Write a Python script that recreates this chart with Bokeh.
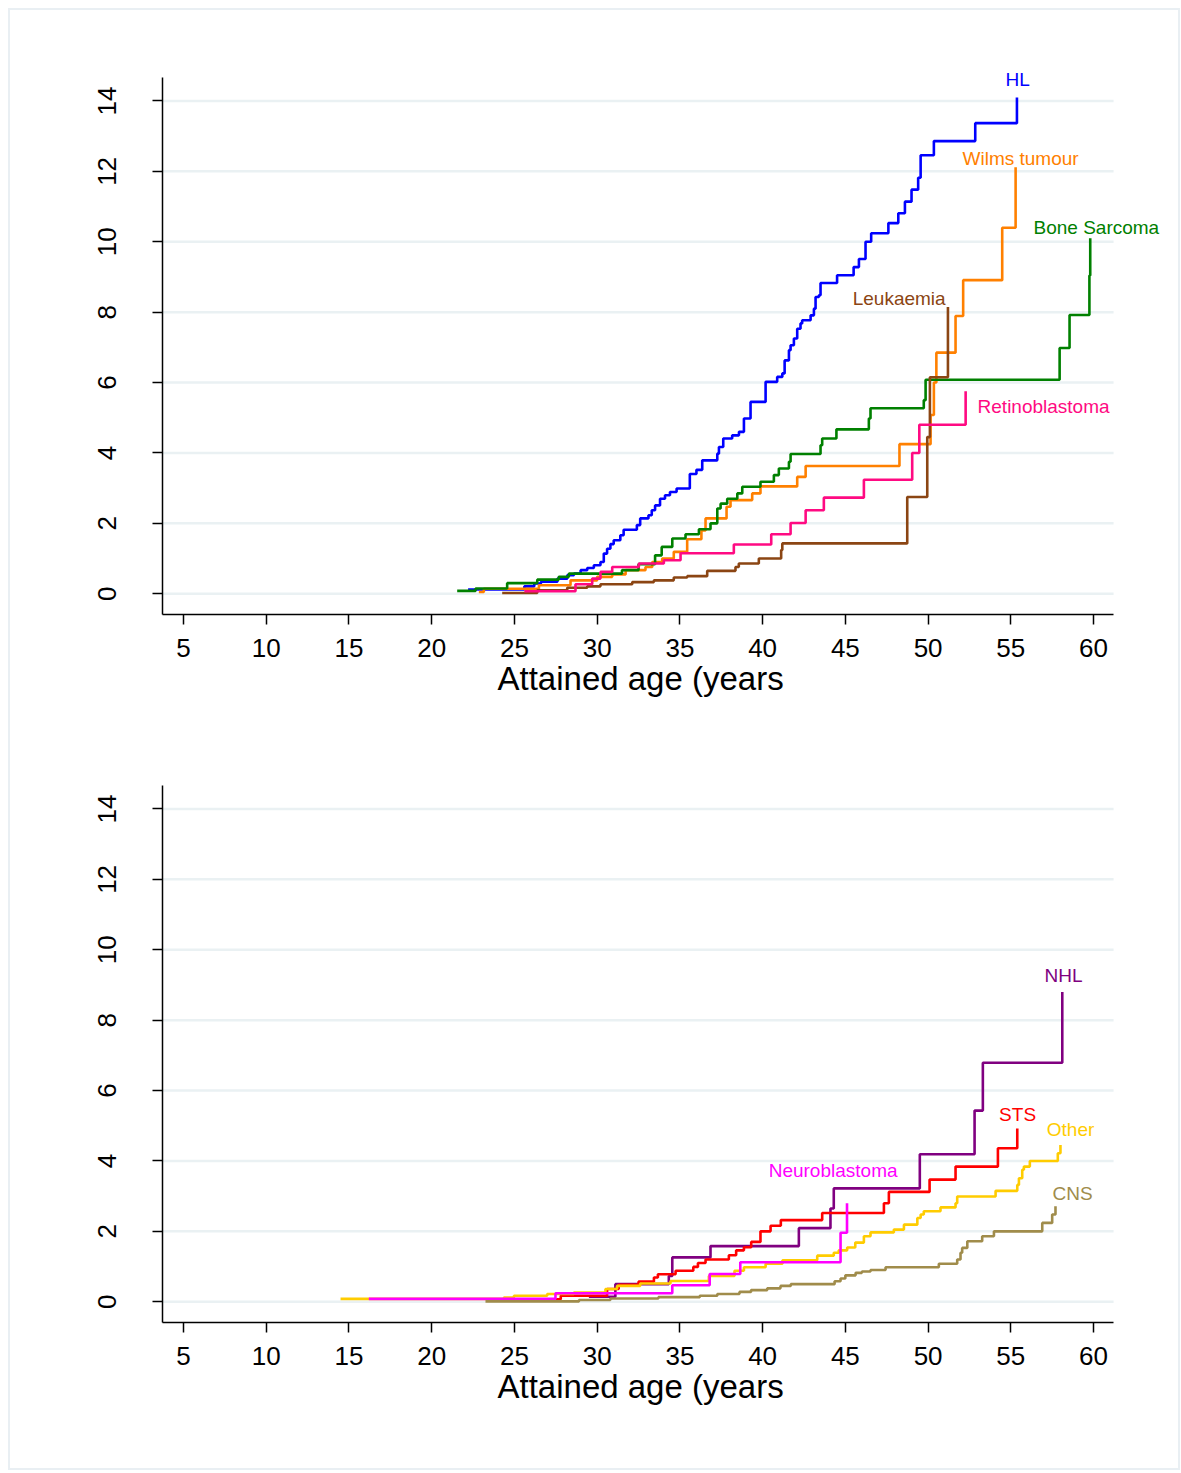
from bokeh.plotting import figure
from bokeh.models import Label, Range1d, FixedTicker, Title
from bokeh.layouts import column
from bokeh.embed import file_html
from bokeh.resources import INLINE

# ---------------- data (attained age, cumulative incidence %) ----------------
x_ticks = [5, 10, 15, 20, 25, 30, 35, 40, 45, 50, 55, 60]
y_ticks = [0, 2, 4, 6, 8, 10, 12, 14]
x_title = "Attained age (years"

hl_age = [22.2, 25.6, 26.2, 26.6, 27.6, 28.2, 28.6, 29.0, 29.4, 29.8, 30.2, 30.4, 30.6, 30.8, 31.0,
          31.4, 31.6, 32.4, 32.6, 33.1, 33.3, 33.5, 33.8, 34.1, 34.4, 34.8, 35.6, 36.0, 36.35, 37.26,
          37.36, 37.62, 38.16, 38.57, 38.87, 39.27, 40.18, 40.88, 41.19, 41.33, 41.59, 41.69, 41.89,
          42.09, 42.29, 42.39, 42.9, 43.1, 43.2, 43.4, 43.5, 44.5, 45.5, 45.82, 46.22, 46.56, 47.6,
          48.2, 48.6, 49.0, 49.4, 49.55, 50.35, 52.85, 55.37]
hl_val = [0.12, 0.21, 0.29, 0.34, 0.43, 0.53, 0.57, 0.67, 0.73, 0.81, 0.9, 1.14, 1.28, 1.41, 1.52,
          1.66, 1.82, 1.95, 2.14, 2.23, 2.37, 2.51, 2.7, 2.8, 2.89, 2.99, 3.4, 3.52, 3.79, 3.98,
          4.17, 4.41, 4.5, 4.6, 4.98, 5.45, 6.02, 6.16, 6.26, 6.63, 6.92, 7.06, 7.25,
          7.53, 7.68, 7.77, 7.91, 8.1, 8.43, 8.48, 8.83, 9.05, 9.28, 9.51, 10.0, 10.24, 10.53,
          10.81, 11.14, 11.48, 11.82, 12.46, 12.86, 13.37, 14.1]

wilms_age = [22.85, 23.15, 26.48, 28.39, 30.0, 30.91, 31.72, 32.92, 33.33, 33.93, 34.63, 35.44, 36.3,
             36.55, 37.82, 38.06, 39.37, 39.87, 42.09, 42.6, 48.27, 50.15, 50.35, 50.5, 51.66, 52.12,
             54.48, 55.29]
wilms_val = [0.05, 0.14, 0.24, 0.38, 0.48, 0.55, 0.67, 0.76, 0.9, 1.0, 1.19, 1.55, 1.8,
             2.14, 2.47, 2.66, 2.85, 3.05, 3.32, 3.63, 4.25, 5.08, 6.0, 6.85, 7.89, 8.91,
             10.4, 12.12]

bone_age = [21.54, 22.65, 24.56, 26.38, 27.68, 28.29, 31.5, 32.5, 33.5, 33.9, 34.54, 35.34, 36.15,
            36.85, 37.26, 37.46, 37.86, 38.47, 38.77, 39.87, 40.68, 40.98, 41.59, 41.69, 43.5, 43.6,
            44.46, 46.42, 46.52, 49.74, 49.85, 57.95, 58.55, 59.75, 59.8]
bone_val = [0.08, 0.15, 0.3, 0.4, 0.48, 0.57, 0.67, 0.84, 1.09, 1.33, 1.57, 1.69, 1.83,
            2.0, 2.42, 2.56, 2.7, 2.85, 3.04, 3.18, 3.37, 3.56, 3.75, 3.97, 4.22, 4.41,
            4.67, 4.98, 5.27, 5.5, 6.08, 6.98, 7.92, 9.04, 10.1]

leuk_age = [24.26, 26.38, 28.19, 29.4, 30.2, 32.12, 33.43, 34.63, 35.44, 36.65, 38.36, 38.56, 39.77,
            41.12, 41.19, 48.74, 49.95, 50.11, 51.2]
leuk_val = [0.02, 0.1, 0.17, 0.21, 0.27, 0.33, 0.38, 0.46, 0.5, 0.65, 0.76, 0.86, 1.0,
            1.24, 1.43, 2.75, 4.45, 6.15, 8.15]

retino_age = [25.6, 28.69, 29.7, 30.2, 30.91, 32.52, 34.03, 35.04, 38.26, 40.52, 41.69, 42.6, 43.7,
              46.12, 49.04, 49.47, 52.27]
retino_val = [0.07, 0.27, 0.43, 0.62, 0.76, 0.86, 0.95, 1.15, 1.4, 1.69, 2.01, 2.37, 2.73,
              3.24, 4.0, 4.8, 5.75]

nhl_age = [29.5, 31.1, 34.33, 34.54, 36.85, 42.19, 44.1, 44.3, 49.5, 52.81, 53.31, 58.11]
nhl_val = [0.14, 0.5, 0.73, 1.26, 1.58, 2.09, 2.65, 3.22, 4.19, 5.43, 6.79, 8.8]

sts_age = [25.5, 27.8, 30.6, 31.3, 32.5, 33.43, 33.67, 34.74, 35.81, 36.09, 36.55, 37.96, 38.4,
           38.87, 39.31, 39.87, 40.48, 41.1, 43.6, 47.33, 47.63, 50.09, 51.66, 54.22, 55.39]
sts_val = [0.07, 0.17, 0.36, 0.48, 0.57, 0.69, 0.78, 0.88, 0.99, 1.1, 1.2, 1.32, 1.46,
           1.55, 1.7, 2.0, 2.16, 2.32, 2.52, 2.8, 3.12, 3.47, 3.84, 4.36, 4.92]

other_age = [14.49, 24.36, 24.97, 26.98, 28.59, 30.5, 31.2, 32.6, 34.43, 36.75, 38.3, 38.87, 40.18,
             41.2, 43.3, 44.3, 44.6, 45.11, 45.6, 46.12, 46.52, 47.93, 48.54, 49.35, 49.55, 49.74,
             50.75, 51.66, 51.76, 54.08, 55.39, 55.49, 55.69, 55.79, 56.15, 57.84, 58.0]
other_val = [0.08, 0.12, 0.17, 0.22, 0.26, 0.36, 0.45, 0.52, 0.59, 0.73, 0.88, 0.98, 1.08,
             1.18, 1.31, 1.39, 1.46, 1.54, 1.68, 1.86, 1.97, 2.05, 2.19, 2.38, 2.48, 2.57,
             2.68, 2.8, 2.99, 3.15, 3.32, 3.51, 3.75, 3.84, 4.0, 4.22, 4.45]

neuro_age = [16.2, 27.48, 34.54, 36.8, 38.65, 44.71, 45.1]
neuro_val = [0.08, 0.24, 0.47, 0.79, 1.12, 1.96, 2.8]

cns_age = [23.25, 28.9, 30.8, 33.7, 36.2, 37.26, 38.6, 39.3, 40.28, 41.08, 41.7, 44.35, 44.71, 45.0,
           45.62, 46.0, 46.52, 47.43, 50.65, 51.76, 51.96, 52.06, 52.37, 53.27, 53.98, 56.9, 57.5, 57.7]
cns_val = [0.01, 0.05, 0.09, 0.13, 0.17, 0.22, 0.28, 0.33, 0.38, 0.45, 0.5, 0.58, 0.66, 0.75,
           0.82, 0.86, 0.9, 0.98, 1.08, 1.2, 1.39, 1.53, 1.72, 1.86, 2.0, 2.24, 2.48, 2.71]

# (name, ages, values, colour)
panel1_series = [
    ("HL", hl_age, hl_val, "#0000FF"),
    ("Wilms tumour", wilms_age, wilms_val, "#FF8000"),
    ("Bone Sarcoma", bone_age, bone_val, "#008000"),
    ("Leukaemia", leuk_age, leuk_val, "#8B4513"),
    ("Retinoblastoma", retino_age, retino_val, "#FF0A82"),
]
panel2_series = [
    ("NHL", nhl_age, nhl_val, "#800080"),
    ("STS", sts_age, sts_val, "#FF0000"),
    ("Other", other_age, other_val, "#FFCC00"),
    ("Neuroblastoma", neuro_age, neuro_val, "#FF00FF"),
    ("CNS", cns_age, cns_val, "#A08C4B"),
]

# label placement (data coords) : name -> (x, y, align)
panel1_labels = {
    "HL": (55.41, 14.62, "center"),
    "Wilms tumour": (55.59, 12.37, "center"),
    "Bone Sarcoma": (56.37, 10.41, "left"),
    "Leukaemia": (51.06, 8.4, "right"),
    "Retinoblastoma": (52.99, 5.33, "left"),
}
panel2_labels = {
    "NHL": (58.19, 9.27, "center"),
    "STS": (55.41, 5.31, "center"),
    "Other": (58.61, 4.89, "center"),
    "Neuroblastoma": (44.26, 3.73, "center"),
    "CNS": (58.73, 3.08, "center"),
}

FONT = "Liberation Sans"
X_LO, X_HI = 3.73, 61.21      # extent of the drawn axes
Y_LO, Y_HI = -0.59, 14.66
X_VIEW_HI = 64.53             # a little extra room so labels are not clipped
Y_VIEW_HI = 15.15


def make_panel(series, labels, height, top, bottom):
    p = figure(width=1168, height=height, output_backend="svg", toolbar_location=None,
               x_range=Range1d(X_LO, X_VIEW_HI), y_range=Range1d(Y_LO, Y_VIEW_HI),
               min_border_left=152, min_border_right=10,
               min_border_top=top, min_border_bottom=bottom)
    p.outline_line_color = None
    p.background_fill_color = "white"
    p.border_fill_color = "white"
    p.xgrid.visible = False
    p.ygrid.visible = False
    # horizontal grid lines, only across the axis extent
    p.segment(x0=[X_LO] * len(y_ticks), x1=[X_HI] * len(y_ticks), y0=y_ticks, y1=y_ticks,
              line_color="#EAF1F3", line_width=2.5, level="underlay")

    for ax in (p.xaxis[0], p.yaxis[0]):
        ax.axis_line_color = "black"
        ax.axis_line_width = 1.5
        ax.major_tick_line_color = "black"
        ax.major_tick_line_width = 1.5
        ax.major_tick_out = 10
        ax.major_tick_in = 0
        ax.minor_tick_line_color = None
        ax.major_label_text_font = FONT
        ax.major_label_text_font_size = "26px"
        ax.major_label_text_color = "black"

    p.xaxis.bounds = (X_LO, X_HI)
    p.xaxis.ticker = FixedTicker(ticks=x_ticks)
    p.xaxis.major_label_standoff = 14

    p.yaxis.bounds = (Y_LO, Y_HI)
    p.yaxis.ticker = FixedTicker(ticks=y_ticks)
    p.yaxis.major_label_orientation = "vertical"
    p.yaxis.major_label_standoff = 36

    # x-axis title, placed under the drawn axis (not the wider frame)
    p.add_layout(Title(text=x_title, align="left", offset=335, standoff=-4,
                       text_font=FONT, text_font_size="33px", text_font_style="normal",
                       text_color="black"), "below")

    for name, ages, vals, col in series:
        p.step(ages, vals, mode="after", line_color=col, line_width=2.6)
        lx, ly, al = labels[name]
        p.add_layout(Label(x=lx, y=ly, text=name, text_align=al, text_baseline="middle",
                           text_color=col, text_font=FONT, text_font_size="19px"))
    return p


p1 = make_panel(panel1_series, panel1_labels, 698, 50, 94)
p2 = make_panel(panel2_series, panel2_labels, 760, 60, 146)

layout = column(p1, p2, margin=(8, 0, 0, 8),
                styles={"border": "2px solid #E9EFF3", "background-color": "white"})

open("out.html", "w").write(file_html(layout, INLINE))
